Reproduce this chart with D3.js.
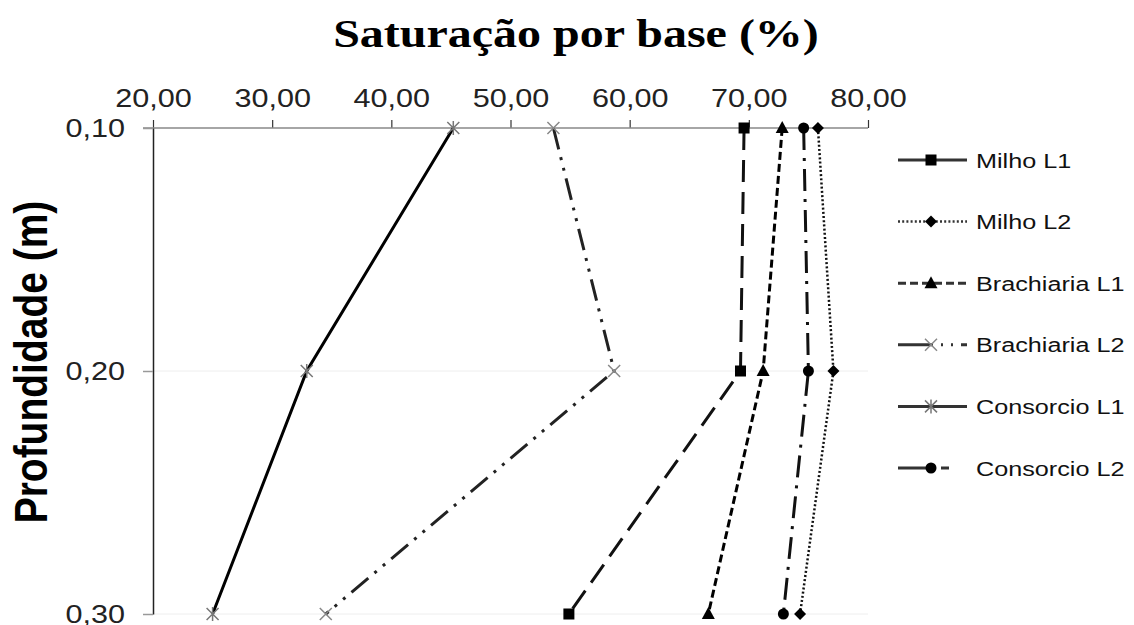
<!DOCTYPE html>
<html>
<head>
<meta charset="utf-8">
<script src="https://cdn.jsdelivr.net/npm/d3@7"></script>
<style>
  body { margin: 0; background: #fff; }
  svg { display: block; }
</style>
</head>
<body>
<div id="main"></div>
<script>
"use strict";

// data
const depths = [0.10, 0.20, 0.30];
const xTicks = [20, 30, 40, 50, 60, 70, 80];
const seriesNames = ["Milho L1", "Milho L2", "Brachiaria L1", "Brachiaria L2", "Consorcio L1", "Consorcio L2"];
const milhoL1 = [69.6, 69.3, 54.9];
const milhoL2 = [75.8, 77.1, 74.3];
const brachiariaL1 = [72.8, 71.2, 66.6];
const brachiariaL2 = [53.6, 58.7, 34.5];
const consorcioL1 = [45.2, 32.9, 25.0];
const consorcioL2 = [74.6, 75.0, 72.9];

const seriesValues = [milhoL1, milhoL2, brachiariaL1, brachiariaL2, consorcioL1, consorcioL2];

// the original picture is stretched sideways, so text is too
const stretch = 1.2;

const styles = [
    { dash: "22,10", color: "#111", width: 3, marker: "square" },
    { dash: "2,2.2", color: "#111", width: 2.5, marker: "diamond" },
    { dash: "8,4", color: "#000", width: 3, marker: "triangle" },
    { dash: "22,8,3,8,3,8", color: "#222", width: 3, marker: "cross" },
    { dash: null, color: "#000", width: 3, marker: "star" },
    { dash: "22,8,3,8", color: "#111", width: 3, marker: "circle" }
];

// legend samples start with a long dash, like the spreadsheet legend does
const legendDashes = ["60,0", "2,2.2", "8,4", "35,8,2,8,2,8", null, "35,8,8,20"];

function comma(v, digits) {
    return v.toFixed(digits).replace(".", ",");
}

function drawMarker(g, type, x, y) {
    const m = g.append("g").attr("transform", `translate(${x},${y})`);
    if (type === "square") {
        m.append("rect").attr("x", -5.5).attr("y", -5.5).attr("width", 11).attr("height", 11).attr("fill", "#000");
    } else if (type === "diamond") {
        m.append("path").attr("d", "M0,-6L6,0L0,6L-6,0Z").attr("fill", "#000");
    } else if (type === "triangle") {
        m.append("path").attr("d", "M0,-7L6.5,5L-6.5,5Z").attr("fill", "#000");
    } else if (type === "circle") {
        m.append("circle").attr("r", 5.5).attr("fill", "#000");
    } else if (type === "cross") {
        m.append("path").attr("d", "M-6,-6L6,6M6,-6L-6,6").attr("stroke", "#888").attr("stroke-width", 1.5).attr("fill", "none");
    } else if (type === "star") {
        m.append("path").attr("d", "M-6,-6L6,6M6,-6L-6,6M0,-7L0,7").attr("stroke", "#777").attr("stroke-width", 1.5).attr("fill", "none");
    }
}

function draw() {
    const width = 1134, height = 625;
    const svg = d3.select("#main").append("svg")
        .attr("width", width)
        .attr("height", height)
        .style("font-family", "'Liberation Sans', Arial, sans-serif");

    const x = d3.scaleLinear().domain([20, 80]).range([153, 868]);
    const y = d3.scaleLinear().domain([0.10, 0.30]).range([128, 614]);

    // faint gridlines
    svg.append("g").selectAll("line")
        .data(depths.slice(1))
        .join("line")
        .attr("x1", x(20)).attr("x2", x(80))
        .attr("y1", d => y(d)).attr("y2", d => y(d))
        .attr("stroke", "#eee").attr("stroke-width", 1);

    // top axis
    const xAxis = svg.append("g")
        .attr("transform", `translate(0,${y(0.10)})`)
        .call(d3.axisTop(x).tickValues(xTicks).tickSize(8).tickSizeOuter(0).tickFormat(d => comma(d, 2)));
    xAxis.select(".domain").remove();
    xAxis.selectAll(".tick line").attr("stroke", "#333").attr("stroke-width", 1.2);
    xAxis.selectAll(".tick text")
        .attr("y", -21).attr("dy", 0)
        .attr("transform", `scale(${stretch},1)`)
        .attr("font-size", 25.5).attr("fill", "#222");
    svg.append("line")
        .attr("x1", 143).attr("x2", x(80))
        .attr("y1", y(0.10)).attr("y2", y(0.10))
        .attr("stroke", "#888").attr("stroke-width", 1.5);

    // left axis
    const yAxis = svg.append("g")
        .attr("transform", `translate(${x(20)},0)`)
        .call(d3.axisLeft(y).tickValues(depths).tickSize(10).tickSizeOuter(0).tickFormat(d => comma(d, 2)));
    yAxis.select(".domain").attr("stroke", "#222").attr("stroke-width", 1.5);
    yAxis.selectAll(".tick line").attr("stroke", "#999").attr("stroke-width", 1.5);
    yAxis.selectAll(".tick text")
        .attr("x", -28 / stretch).attr("dy", "0.33em")
        .attr("transform", `scale(${stretch},1)`)
        .attr("font-size", 25.5).attr("fill", "#222");

    // series lines
    const line = d3.line().x(d => x(d.v)).y(d => y(d.depth));
    seriesValues.forEach((vals, i) => {
        const pts = vals.map((v, j) => ({ v: v, depth: depths[j] }));
        const st = styles[i];
        svg.append("path")
            .datum(pts)
            .attr("d", line)
            .attr("fill", "none")
            .attr("stroke", st.color)
            .attr("stroke-width", st.width)
            .attr("stroke-dasharray", st.dash);
    });
    seriesValues.forEach((vals, i) => {
        const g = svg.append("g");
        vals.forEach((v, j) => drawMarker(g, styles[i].marker, x(v), y(depths[j])));
    });

    // title
    svg.append("text")
        .attr("transform", `translate(576,47) scale(${stretch},1)`)
        .attr("text-anchor", "middle")
        .attr("font-family", "'Liberation Serif', 'Times New Roman', serif")
        .attr("font-weight", "bold")
        .attr("font-size", 40)
        .text("Saturação por base (%)");

    // y title
    svg.append("text")
        .attr("transform", `translate(47,362) scale(${stretch},1) rotate(-90)`)
        .attr("text-anchor", "middle")
        .attr("font-weight", "bold")
        .attr("font-size", 39)
        .text("Profundidade (m)");

    // legend
    const legend = svg.append("g");
    seriesNames.forEach((name, i) => {
        const ly = 160 + i * 61.6;
        const st = styles[i];
        legend.append("line")
            .attr("x1", 898).attr("x2", 967)
            .attr("y1", ly).attr("y2", ly)
            .attr("stroke", "#333")
            .attr("stroke-width", st.width)
            .attr("stroke-dasharray", legendDashes[i]);
        drawMarker(legend, st.marker, 931, ly);
        legend.append("text")
            .attr("transform", `translate(976,${ly + 7.5}) scale(${stretch},1)`)
            .attr("font-size", 21)
            .attr("fill", "#111")
            .text(name);
    });
}

draw();
</script>
</body>
</html>
